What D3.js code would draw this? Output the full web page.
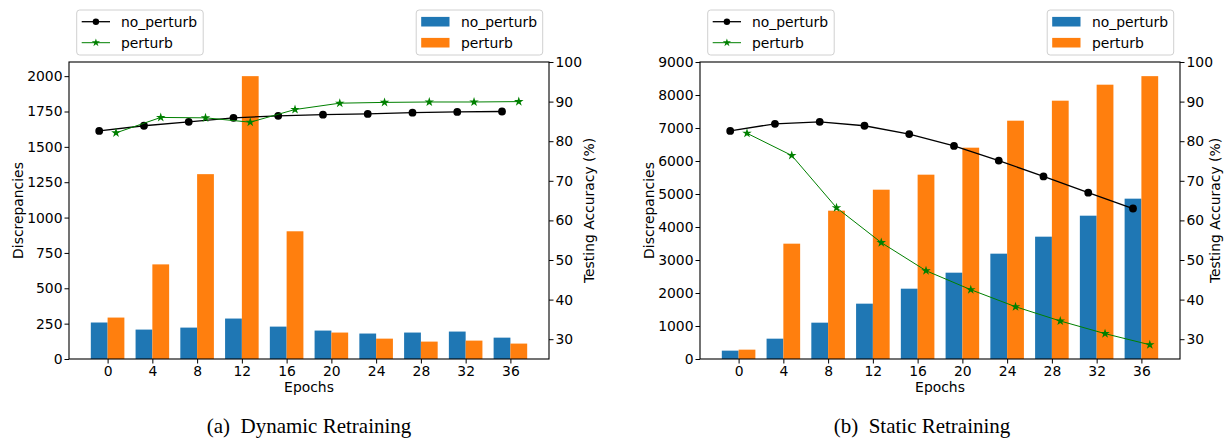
<!DOCTYPE html>
<html>
<head>
<meta charset="utf-8">
<script src="https://cdn.jsdelivr.net/npm/d3@7"></script>
<style>
  body { margin: 0; background: #fff; }
  svg { display: block; font-family: "DejaVu Sans", sans-serif; }
  .tick text { font-size: 13.9px; fill: #000; font-family: "DejaVu Sans", sans-serif; }
  .tick line { stroke: #000; stroke-width: 1; }
  .label { font-size: 13.9px; fill: #000; }
  .caption { font-family: "Liberation Serif", "Times New Roman", serif; font-size: 21px; fill: #000; }
</style>
</head>
<body>
<svg id="fig" width="1225" height="438"></svg>
<script>
// Data
var epochs = [0, 4, 8, 12, 16, 20, 24, 28, 32, 36];
var seriesNames = ['no_perturb', 'perturb'];

// (a) Dynamic Retraining
var dynBarsNoPerturb = [258, 208, 222, 286, 229, 201, 180, 187, 194, 151];
var dynBarsPerturb = [293, 669, 1307, 2000, 903, 187, 144, 123, 130, 109];
var dynAccNoPerturb = [82.6, 83.9, 84.9, 85.9, 86.4, 86.7, 86.9, 87.2, 87.4, 87.5];
var dynAccPerturb = [82.1, 86.0, 85.9, 84.8, 88.0, 89.6, 89.8, 89.9, 89.9, 90.0];
var dynTicks = [0, 250, 500, 750, 1000, 1250, 1500, 1750, 2000];

// (b) Static Retraining
var staBarsNoPerturb = [253, 616, 1101, 1677, 2131, 2616, 3192, 3707, 4343, 4859];
var staBarsPerturb = [283, 3495, 4495, 5131, 5586, 6404, 7222, 7828, 8313, 8572];
var staAccNoPerturb = [82.6, 84.4, 84.9, 83.9, 81.8, 78.8, 75.1, 71.1, 67.0, 63.0];
var staAccPerturb = [82.0, 76.4, 63.2, 54.4, 47.3, 42.5, 38.2, 34.6, 31.4, 28.6];
var staTicks = [0, 1000, 2000, 3000, 4000, 5000, 6000, 7000, 8000, 9000];

var accTicks = [30, 40, 50, 60, 70, 80, 90, 100];
var accDomain = [25, 100];

var FIG = {
  barWidth: 0.375,
  top: 62,
  bottom: 359,
  barColors: ['#1f77b4', '#ff7f0e'],
  lineColors: ['#000000', '#008000'],
  lineWidths: [1.3, 1.0],

  panels: [
    {
      left: 69, right: 549, captionX: 309, accLabelGap: 40,
      caption: '(a)\u2002Dynamic Retraining',
      bars: [dynBarsNoPerturb, dynBarsPerturb],
      acc: [dynAccNoPerturb, dynAccPerturb],
      yTicks: dynTicks
    },
    {
      left: 700, right: 1180, captionX: 922, accLabelGap: 35,
      caption: '(b)\u2002Static Retraining',
      bars: [staBarsNoPerturb, staBarsPerturb],
      acc: [staAccNoPerturb, staAccPerturb],
      yTicks: staTicks
    }
  ],

  marker: function (g, k, cx, cy, r) {
    if (k === 0) {
      g.append('circle').attr('cx', cx).attr('cy', cy).attr('r', r).attr('fill', '#000');
    } else {
      g.append('path')
        .attr('d', d3.symbol().type(d3.symbolStar).size(r * r * 1.6)())
        .attr('transform', 'translate(' + cx + ',' + cy + ')')
        .attr('fill', FIG.lineColors[1]);
    }
  },

  legendBox: function (svg, x0) {
    svg.append('rect')
      .attr('x', x0).attr('y', 10)
      .attr('width', 126.5).attr('height', 45)
      .attr('rx', 3)
      .attr('fill', '#fff').attr('fill-opacity', 0.8)
      .attr('stroke', '#d0d0d0').attr('stroke-width', 1);
  },

  drawPanel: function (svg, p) {
    var n = epochs.length, w = FIG.barWidth;
    var pad = w + 0.05 * (n - 1 + 2 * w);
    var x = d3.scaleLinear().domain([-pad, n - 1 + pad]).range([p.left, p.right]);
    var yMax = d3.max(p.bars[0].concat(p.bars[1])) * 1.05;
    var y = d3.scaleLinear().domain([0, yMax]).range([FIG.bottom, FIG.top]);
    var y2 = d3.scaleLinear().domain(accDomain).range([FIG.bottom, FIG.top]);

    var g = svg.append('g');

    // bars
    p.bars.forEach(function (vals, k) {
      g.append('g').selectAll('rect')
        .data(vals)
        .join('rect')
        .attr('x', function (d, i) { return x(i - w + k * w); })
        .attr('width', x(w) - x(0))
        .attr('y', function (d) { return y(d); })
        .attr('height', function (d) { return y(0) - y(d); })
        .attr('fill', FIG.barColors[k]);
    });

    // accuracy lines (on bar centres)
    p.acc.forEach(function (vals, k) {
      var off = k === 0 ? -w / 2 : w / 2;
      var line = d3.line()
        .x(function (d, i) { return x(i + off); })
        .y(function (d) { return y2(d); });
      g.append('path')
        .attr('d', line(vals))
        .attr('fill', 'none')
        .attr('stroke', FIG.lineColors[k])
        .attr('stroke-width', FIG.lineWidths[k]);
      var mg = g.append('g');
      vals.forEach(function (d, i) {
        FIG.marker(mg, k, x(i + off), y2(d), k === 0 ? 3.9 : 4.2);
      });
    });

    // frame
    g.append('rect')
      .attr('x', p.left).attr('y', FIG.top)
      .attr('width', p.right - p.left).attr('height', FIG.bottom - FIG.top)
      .attr('fill', 'none').attr('stroke', '#000').attr('stroke-width', 1.1);

    // axes
    var ax = g.append('g').attr('transform', 'translate(0,' + FIG.bottom + ')')
      .call(d3.axisBottom(x).tickValues(d3.range(n))
        .tickFormat(function (i) { return epochs[i]; })
        .tickSize(4.5).tickPadding(2.5).tickSizeOuter(0));
    var ay = g.append('g').attr('transform', 'translate(' + p.left + ',0)')
      .call(d3.axisLeft(y).tickValues(p.yTicks).tickFormat(d3.format('d'))
        .tickSize(4.5).tickPadding(2).tickSizeOuter(0));
    var ay2 = g.append('g').attr('transform', 'translate(' + p.right + ',0)')
      .call(d3.axisRight(y2).tickValues(accTicks).tickFormat(d3.format('d'))
        .tickSize(4.5).tickPadding(2).tickSizeOuter(0));
    [ax, ay, ay2].forEach(function (a) {
      a.select('.domain').remove();
      a.attr('font-size', null).attr('font-family', null);
    });

    // axis titles
    g.append('text').attr('class', 'label')
      .attr('x', (p.left + p.right) / 2).attr('y', 392)
      .attr('text-anchor', 'middle').text('Epochs');
    g.append('text').attr('class', 'label')
      .attr('transform', 'translate(' + (p.left - 51) + ',' + ((FIG.top + FIG.bottom) / 2) + ') rotate(-90)')
      .attr('text-anchor', 'middle').attr('dy', '0.35em').text('Discrepancies');
    g.append('text').attr('class', 'label')
      .attr('transform', 'translate(' + (p.right + p.accLabelGap) + ',' + ((FIG.top + FIG.bottom) / 2) + ') rotate(-90)')
      .attr('text-anchor', 'middle').attr('dy', '0.35em').text('Testing Accuracy (%)');

    // line legend (upper left)
    var lx = p.left + 7.7;
    FIG.legendBox(svg, lx);
    seriesNames.forEach(function (name, k) {
      var cy = 21.7 + k * 21;
      svg.append('line')
        .attr('x1', lx + 5).attr('x2', lx + 33.3)
        .attr('y1', cy).attr('y2', cy)
        .attr('stroke', FIG.lineColors[k]).attr('stroke-width', FIG.lineWidths[k]);
      FIG.marker(svg, k, lx + 19.2, cy, k === 0 ? 3.2 : 3.6);
      svg.append('text').attr('class', 'label')
        .attr('x', lx + 44.3).attr('y', cy).attr('dy', '0.35em').text(name);
    });

    // bar legend (upper right)
    var bx = p.right - 6.3 - 126.5;
    FIG.legendBox(svg, bx);
    seriesNames.forEach(function (name, k) {
      var cy = 21.7 + k * 21;
      svg.append('rect')
        .attr('x', bx + 5).attr('y', cy - 4.8)
        .attr('width', 28.3).attr('height', 9.6)
        .attr('fill', FIG.barColors[k]);
      svg.append('text').attr('class', 'label')
        .attr('x', bx + 44.8).attr('y', cy).attr('dy', '0.35em').text(name);
    });

    // caption
    svg.append('text').attr('class', 'caption')
      .attr('x', p.captionX).attr('y', 433)
      .attr('text-anchor', 'middle').text(p.caption);
  },

  main: function () {
    var svg = d3.select('#fig');
    FIG.panels.forEach(function (p) { FIG.drawPanel(svg, p); });
  }
};

FIG.main();
</script>
</body>
</html>
